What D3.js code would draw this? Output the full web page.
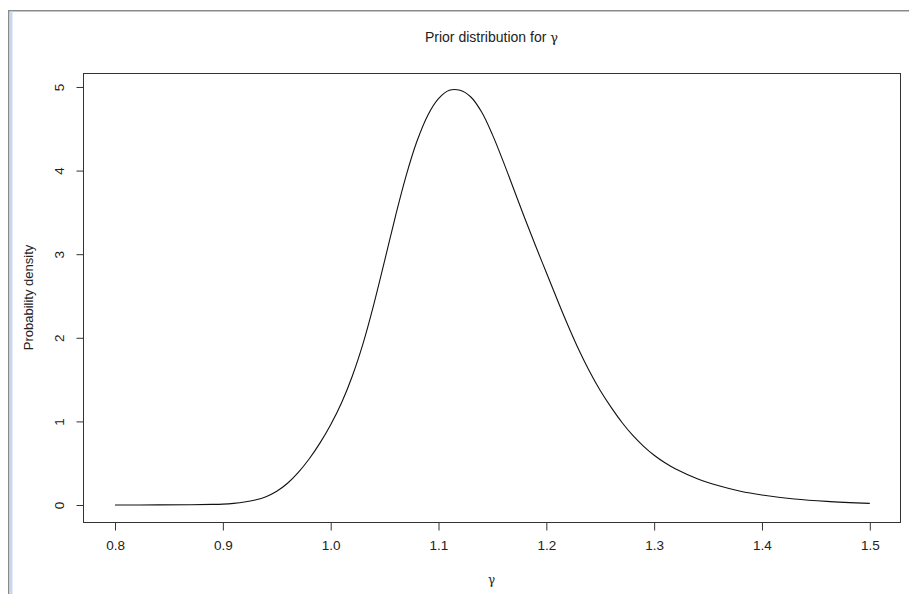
<!doctype html>
<html>
<head>
    <meta charset="UTF-8">
    <title>Prior distribution</title>
    <script src="https://d3js.org/d3.v7.min.js"></script>
    <style>
        body { margin: 0; background: #fff; }
        text { font-family: "Liberation Sans", Arial, sans-serif; fill: #222; }
    </style>
</head>
<body>
    <script>
        // density
        var gammaX = [0.80, 0.84, 0.87, 0.89, 0.90, 0.91, 0.92, 0.93, 0.94, 0.95, 0.96, 0.97, 0.98, 0.99,
                      1.00, 1.01, 1.02, 1.03, 1.04, 1.05, 1.06, 1.07, 1.08, 1.09,
                      1.10, 1.11, 1.12, 1.13, 1.14, 1.15, 1.16, 1.17, 1.18, 1.19,
                      1.20, 1.21, 1.22, 1.23, 1.24, 1.25, 1.26, 1.27, 1.28, 1.29,
                      1.30, 1.31, 1.32, 1.34, 1.36, 1.38, 1.40, 1.43, 1.46, 1.50];
        var density = [0.00, 0.001, 0.003, 0.007, 0.011, 0.02, 0.035, 0.06, 0.10, 0.165, 0.26, 0.39, 0.55, 0.74,
                       0.96, 1.22, 1.54, 1.93, 2.40, 2.92, 3.45, 3.94, 4.35, 4.66,
                       4.86, 4.96, 4.96, 4.88, 4.70, 4.43, 4.11, 3.77, 3.43, 3.10,
                       2.78, 2.46, 2.15, 1.86, 1.60, 1.37, 1.17, 0.99, 0.835, 0.705,
                       0.595, 0.505, 0.43, 0.315, 0.23, 0.165, 0.12, 0.072, 0.043, 0.02];
        var xTicks = [0.8, 0.9, 1.0, 1.1, 1.2, 1.3, 1.4, 1.5];
        var yTicks = [0, 1, 2, 3, 4, 5];

        var w = 909, h = 594;
        var pLeft = 83, pRight = 900, pTop = 73, pBottom = 522;

        var svg = d3.select("body").append("svg")
            .attr("width", w)
            .attr("height", h);

        // window frame of the screenshot
        svg.append("rect").attr("x", 8).attr("y", 10).attr("width", w - 8).attr("height", 1.5).attr("fill", "#8a8a8a");
        svg.append("rect").attr("x", 8).attr("y", 10).attr("width", 1.5).attr("height", h - 10).attr("fill", "#8a8a8a");
        svg.append("rect").attr("x", 9.5).attr("y", 11.5).attr("width", 3).attr("height", h - 11).attr("fill", "#c9d9ec");

        var x = d3.scaleLinear().domain([0.7703, 1.528]).range([pLeft, pRight]);
        var y = d3.scaleLinear().domain([-0.2033, 5.167]).range([pBottom, pTop]);

        // box
        svg.append("rect")
            .attr("x", pLeft + 0.5).attr("y", pTop + 0.5)
            .attr("width", pRight - pLeft).attr("height", pBottom - pTop)
            .attr("fill", "none").attr("stroke", "#333").attr("stroke-width", 1);

        var xAxis = d3.axisBottom(x).tickValues(xTicks).tickFormat(d3.format(".1f")).tickSize(8).tickPadding(10);
        var gx = svg.append("g").attr("transform", "translate(0," + (pBottom + 0.5) + ")").call(xAxis);
        gx.select(".domain").remove();
        gx.selectAll("line").attr("stroke", "#333");
        gx.selectAll("text").attr("font-size", 13.5).style("fill", "#222")
            .style("font-family", "'Liberation Sans', Arial, sans-serif");

        var yAxis = d3.axisLeft(y).tickValues(yTicks).tickSize(7).tickFormat(d3.format("d"));
        var gy = svg.append("g").attr("transform", "translate(" + (pLeft + 0.5) + ",0)").call(yAxis);
        gy.select(".domain").remove();
        gy.selectAll("line").attr("stroke", "#333");
        gy.selectAll("text")
            .attr("x", 0).attr("y", -20).attr("dy", 0)
            .attr("text-anchor", "middle")
            .attr("transform", "rotate(-90)")
            .attr("font-size", 13.5)
            .style("fill", "#222")
            .style("font-family", "'Liberation Sans', Arial, sans-serif");

        // curve
        var pts = gammaX.map(function(v, i){ return [v, density[i]]; });
        var line = d3.line()
            .x(function(d){ return x(d[0]); })
            .y(function(d){ return y(d[1]); })
            .curve(d3.curveCatmullRom.alpha(0.5));
        svg.append("path")
            .datum(pts)
            .attr("d", line)
            .attr("fill", "none")
            .attr("stroke", "#111")
            .attr("stroke-width", 1.1);

        // titles
        var title = svg.append("text")
            .attr("x", (pLeft + pRight) / 2).attr("y", 42)
            .attr("text-anchor", "middle")
            .attr("font-size", 14);
        title.append("tspan").text("Prior distribution for ");
        title.append("tspan").style("font-family", "'DejaVu Serif', serif").attr("font-size", 13).text("γ");

        svg.append("text")
            .attr("x", (pLeft + pRight) / 2).attr("y", 584)
            .attr("text-anchor", "middle")
            .attr("font-size", 12)
            .style("font-family", "'DejaVu Serif', serif")
            .text("γ");

        svg.append("text")
            .attr("transform", "translate(33," + (pTop + pBottom) / 2 + ") rotate(-90)")
            .attr("text-anchor", "middle")
            .attr("font-size", 13)
            .text("Probability density");
    </script>
</body>
</html>
